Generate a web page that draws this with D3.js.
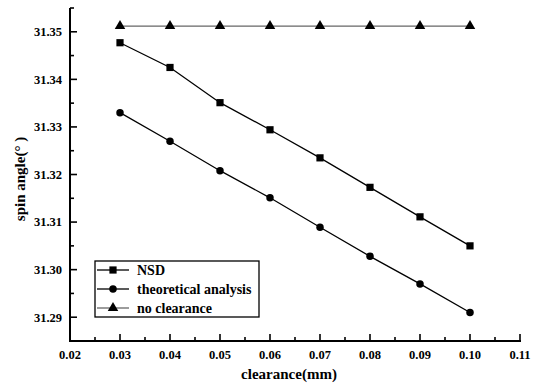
<!DOCTYPE html>
<html>
<head>
<meta charset="utf-8">
<script src="https://cdn.jsdelivr.net/npm/d3@7"></script>
<style>
  body { margin: 0; background: #fff; }
</style>
</head>
<body>
<svg id="chart" width="544" height="388"></svg>
<script>
// data
const clearance = [0.03, 0.04, 0.05, 0.06, 0.07, 0.08, 0.09, 0.10];
const nsd = [31.3477, 31.3425, 31.3351, 31.3294, 31.3235, 31.3173, 31.3111, 31.3050];
const theoretical = [31.3330, 31.3270, 31.3208, 31.3151, 31.3089, 31.3028, 31.2970, 31.2910];
const noClearance = [31.3512, 31.3512, 31.3512, 31.3512, 31.3512, 31.3512, 31.3512, 31.3512];
const xTicks = [0.02, 0.03, 0.04, 0.05, 0.06, 0.07, 0.08, 0.09, 0.10, 0.11];
const yTicks = [31.29, 31.30, 31.31, 31.32, 31.33, 31.34, 31.35];

const FONT = 'Liberation Serif';

const series = [
  { name: 'NSD', values: nsd, symbol: d3.symbolSquare, size: 52, color: '#000' },
  { name: 'theoretical analysis', values: theoretical, symbol: d3.symbolCircle, size: 44, color: '#000' },
  { name: 'no clearance', values: noClearance, symbol: d3.symbolTriangle, size: 48, color: '#666' }
];

const svg = d3.select('#chart');
const x = d3.scaleLinear().domain([0.02, 0.11]).range([70, 520]);
const y = d3.scaleLinear().domain([31.285, 31.355]).range([341, 8]);

// lines + markers
const line = d3.line().x((d, i) => x(clearance[i])).y(d => y(d));
series.forEach(s => {
  svg.append('path')
    .attr('d', line(s.values))
    .attr('fill', 'none')
    .attr('stroke', s.color)
    .attr('stroke-width', 1.3);
  svg.selectAll(null)
    .data(s.values)
    .enter()
    .append('path')
    .attr('transform', (d, i) => `translate(${x(clearance[i])},${y(d)})`)
    .attr('d', d3.symbol().type(s.symbol).size(s.size))
    .attr('fill', '#000');
});

// x axis (ticks inward)
const xAxis = svg.append('g').attr('transform', 'translate(0,341)');
xAxis.append('line').attr('x1', 70).attr('x2', 521).attr('stroke', '#000').attr('stroke-width', 2);
const xMinor = d3.range(0.025, 0.11, 0.01);
xAxis.selectAll('.maj').data(xTicks).enter().append('line')
  .attr('x1', d => x(d)).attr('x2', d => x(d)).attr('y1', 0).attr('y2', -7)
  .attr('stroke', '#000').attr('stroke-width', 1.6);
xAxis.selectAll('.min').data(xMinor).enter().append('line')
  .attr('x1', d => x(d)).attr('x2', d => x(d)).attr('y1', 0).attr('y2', -4)
  .attr('stroke', '#000').attr('stroke-width', 1.6);
xAxis.selectAll('text').data(xTicks).enter().append('text')
  .attr('x', d => x(d)).attr('y', 18)
  .attr('text-anchor', 'middle')
  .attr('font-family', FONT).attr('font-weight', 'bold').attr('font-size', 12.5)
  .text(d => d3.format('.2f')(d));

// y axis
const yAxis = svg.append('g').attr('transform', 'translate(70,0)');
yAxis.append('line').attr('y1', 8).attr('y2', 342).attr('stroke', '#000').attr('stroke-width', 2);
const yMinor = [31.295, 31.305, 31.315, 31.325, 31.335, 31.345, 31.355];
yAxis.selectAll('.maj').data(yTicks).enter().append('line')
  .attr('y1', d => y(d)).attr('y2', d => y(d)).attr('x1', 0).attr('x2', 7)
  .attr('stroke', '#000').attr('stroke-width', 1.6);
yAxis.selectAll('.min').data(yMinor).enter().append('line')
  .attr('y1', d => y(d)).attr('y2', d => y(d)).attr('x1', 0).attr('x2', 4)
  .attr('stroke', '#000').attr('stroke-width', 1.6);
yAxis.selectAll('text').data(yTicks).enter().append('text')
  .attr('x', -8).attr('y', d => y(d)).attr('dy', '0.35em')
  .attr('text-anchor', 'end')
  .attr('font-family', FONT).attr('font-weight', 'bold').attr('font-size', 12.5)
  .text(d => d3.format('.2f')(d));

// axis titles
svg.append('text')
  .attr('transform', 'translate(25,179) rotate(-90)')
  .attr('text-anchor', 'middle')
  .attr('font-family', FONT).attr('font-weight', 'bold').attr('font-size', 15)
  .text('spin angle(° )');
svg.append('text')
  .attr('x', 289).attr('y', 379)
  .attr('text-anchor', 'middle')
  .attr('font-family', FONT).attr('font-weight', 'bold').attr('font-size', 15)
  .text('clearance(mm)');

// legend
const legend = svg.append('g');
legend.append('rect')
  .attr('x', 95).attr('y', 261).attr('width', 164).attr('height', 56)
  .attr('fill', '#fff').attr('stroke', '#000').attr('stroke-width', 1.3);
series.forEach((s, i) => {
  const ly = 270 + i * 19;
  legend.append('line').attr('x1', 97).attr('x2', 129).attr('y1', ly).attr('y2', ly)
    .attr('stroke', s.color).attr('stroke-width', 1.3);
  legend.append('path').attr('transform', `translate(113,${ly})`)
    .attr('d', d3.symbol().type(s.symbol).size(s.size)).attr('fill', '#000');
  legend.append('text').attr('x', 137).attr('y', ly).attr('dy', '0.35em')
    .attr('font-family', FONT).attr('font-weight', 'bold').attr('font-size', 14)
    .text(s.name);
});
</script>
</body>
</html>
